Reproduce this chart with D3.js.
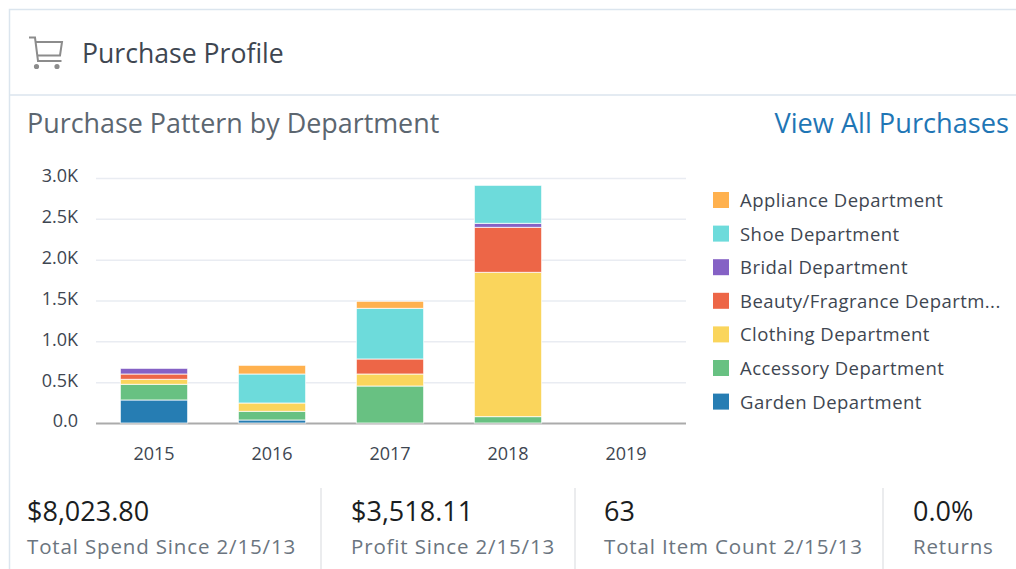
<!DOCTYPE html>
<html>
<head>
<meta charset="utf-8">
<script src="https://cdnjs.cloudflare.com/ajax/libs/d3/7.8.5/d3.min.js"></script>
<style>
html, body { margin:0; padding:0; background:#fff; overflow:hidden; }
svg { display:block; font-family:'Open Sans', sans-serif; }
</style>
</head>
<body>
<svg id="card" width="1016" height="569"></svg>
<script>
//chart data
var years = ['2015','2016','2017','2018','2019'];
var departments = ['Garden Department','Accessory Department','Clothing Department','Beauty/Fragrance Department','Bridal Department','Shoe Department','Appliance Department'];
var garden    = [282, 37, 0, 0, 0];
var accessory = [192, 106, 453, 78, 0];
var clothing  = [61, 102, 147, 1767, 0];
var beauty    = [65, 0, 184, 551, 0];
var bridal    = [69, 0, 0, 49, 0];
var shoe      = [0, 355, 620, 465, 0];
var appliance = [0, 106, 86, 0, 0];
var tickValues = [0, 500, 1000, 1500, 2000, 2500, 3000];
var tickLabels = ['0.0','0.5K','1.0K','1.5K','2.0K','2.5K','3.0K'];
var colours = ['#267db3','#68c182','#fad55c','#ed6647','#8561c5','#6ddbdb','#ffb14e'];
var legendLabels = ['Appliance Department','Shoe Department','Bridal Department','Beauty/Fragrance Departm...','Clothing Department','Accessory Department','Garden Department'];
var statValues = ['$8,023.80','$3,518.11','63','0.0%'];
var statLabels = ['Total Spend Since 2/15/13','Profit Since 2/15/13','Total Item Count 2/15/13','Returns'];

var svg = d3.select('#card');

//card frame
svg.append('path')
	.attr('d','M1016,9.5H9.5V569')
	.attr('fill','none')
	.attr('stroke','#dbe5ee')
	.attr('stroke-width',1.5);
svg.append('line')
	.attr('x1',10).attr('x2',1016)
	.attr('y1',95).attr('y2',95)
	.attr('stroke','#dbe5ee')
	.attr('stroke-width',1.5);

//cart icon
var cart = svg.append('g')
	.attr('fill','none')
	.attr('stroke','#8c8c8c')
	.attr('stroke-width',2);
cart.append('path').attr('d','M29,37.5H35L38,61H61.5');
cart.append('path').attr('d','M35.5,42H62L60,55.5H37');
cart.selectAll('circle').data([36.5,57]).enter()
	.append('circle')
	.attr('cx',function(d){ return d })
	.attr('cy',66.5)
	.attr('r',1.6)
	.attr('fill','#8c8c8c');

//headings
svg.append('text').text('Purchase Profile')
	.attr('x',82).attr('y',63)
	.style('font-size','26.6px').attr('fill','#3e4651');
svg.append('text').text('Purchase Pattern by Department')
	.attr('x',27).attr('y',133)
	.style('font-size','26.9px').attr('fill','#5c6670');
svg.append('text').text('View All Purchases')
	.attr('x',1009).attr('y',133)
	.style('text-anchor','end')
	.style('font-size','27.2px').attr('fill','#1f76b5');

//scales
var x = d3.scaleBand().domain(years).range([95,685]).paddingInner(0.43).paddingOuter(0.215);
var y = d3.scaleLinear().domain([0,3000]).range([423,178]);

//grid and axes
var yAxis = svg.append('g')
	.attr('transform','translate(96,0)')
	.call(d3.axisLeft(y).tickValues(tickValues).tickSize(0).tickPadding(18)
		.tickFormat(function(d,i){ return tickLabels[i] }));
yAxis.attr('font-family',null).attr('font-size',null);
yAxis.select('.domain').remove();
yAxis.selectAll('text')
	.attr('dy','0.22em')
	.style('font-size','18px').attr('fill','#3e4651');
yAxis.selectAll('.tick').append('line')
	.attr('x2',590)
	.attr('stroke',function(d){ return d == 0 ? '#ababab' : '#e9ecf2' })
	.attr('stroke-width',function(d){ return d == 0 ? 2 : 1.5 });

var xAxis = svg.append('g')
	.attr('transform','translate(0,423)')
	.call(d3.axisBottom(x).tickSize(0).tickPadding(24));
xAxis.attr('font-family',null).attr('font-size',null);
xAxis.select('.domain').remove();
xAxis.selectAll('text').style('font-size','18px').attr('fill','#3e4651');

//stacked bars
var rows = years.map(function(year,i){
	return { year:year, 0:garden[i], 1:accessory[i], 2:clothing[i], 3:beauty[i], 4:bridal[i], 5:shoe[i], 6:appliance[i] };
});
var stack = d3.stack().keys(d3.range(departments.length))(rows);

svg.append('g').selectAll('g').data(stack).enter()
	.append('g')
	.attr('fill',function(d,i){ return colours[i] })
	.selectAll('rect').data(function(d){ return d }).enter()
	.append('rect')
	.attr('x',function(d){ return x(d.data.year) })
	.attr('width',x.bandwidth())
	.attr('y',function(d){ return y(d[1]) })
	.attr('height',function(d){ return y(d[0]) - y(d[1]) })
	.attr('stroke','#fff')
	.attr('stroke-opacity',0.75)
	.attr('stroke-width',function(d){ return d[1] > d[0] ? 1 : 0 });

//legend
var legend = svg.append('g').selectAll('g').data(legendLabels).enter()
	.append('g')
	.attr('transform',function(d,i){ return 'translate(713,'+(192+i*33.6)+')' });
legend.append('rect')
	.attr('width',16).attr('height',16)
	.attr('fill',function(d,i){ return colours[colours.length-1-i] });
legend.append('text')
	.text(function(d){ return d })
	.attr('x',27).attr('y',15)
	.style('font-size','18.5px')
	.style('letter-spacing','0.45px')
	.attr('fill','#3e4651');

//summary figures
var statX = [27,351,604,913];
svg.selectAll('.stat-value').data(statValues).enter()
	.append('text').attr('class','stat-value')
	.text(function(d){ return d })
	.attr('x',function(d,i){ return statX[i] }).attr('y',520.5)
	.style('font-size','27px').attr('fill','#1a1d21');
svg.selectAll('.stat-label').data(statLabels).enter()
	.append('text').attr('class','stat-label')
	.text(function(d){ return d })
	.attr('x',function(d,i){ return statX[i] }).attr('y',554)
	.style('font-size','20.5px')
	.style('letter-spacing','0.85px')
	.attr('fill','#6b7580');
svg.selectAll('.stat-sep').data([321,575,883]).enter()
	.append('line').attr('class','stat-sep')
	.attr('x1',function(d){ return d }).attr('x2',function(d){ return d })
	.attr('y1',488).attr('y2',569)
	.attr('stroke','#e4e6e8')
	.attr('stroke-width',1.5);
</script>
</body>
</html>
